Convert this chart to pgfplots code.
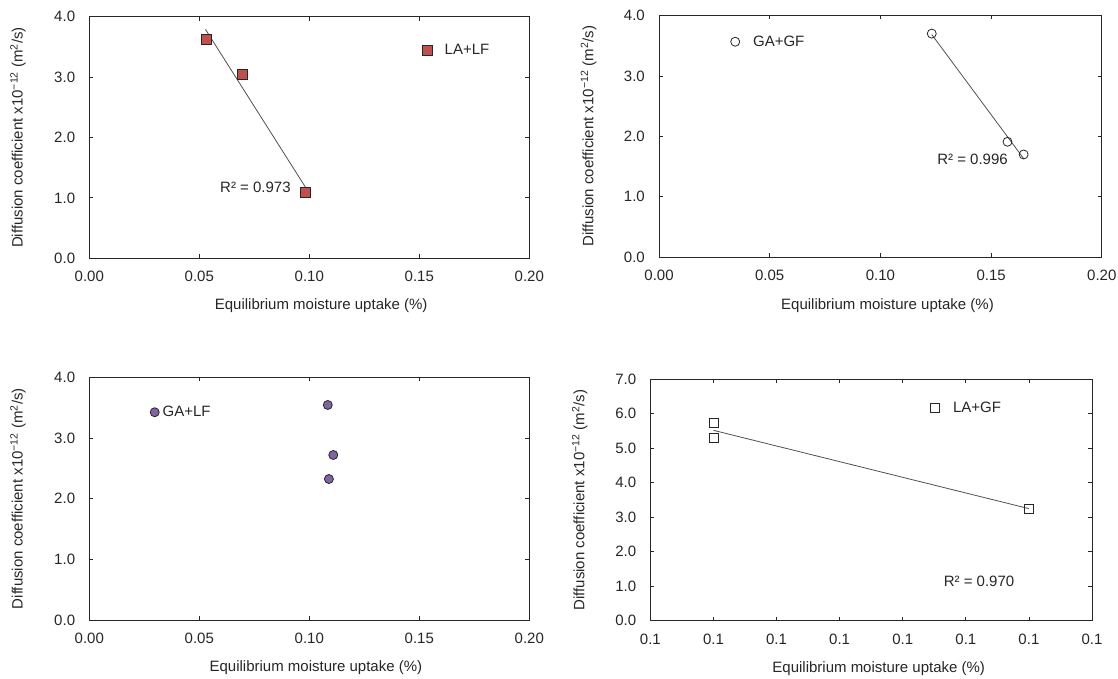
\documentclass[border=0pt]{standalone}
\usepackage{fontspec}
\setmainfont{Liberation Sans}
\usepackage{pgfplots}
\pgfplotsset{compat=1.18}
\definecolor{redfill}{HTML}{C0504D}
\definecolor{purplefill}{HTML}{8064A2}
\definecolor{axgray}{HTML}{262626}
\definecolor{trendgray}{HTML}{505050}

\pgfplotsset{
  panel/.style={
    scale only axis,
    anchor=south west,
    axis line style={axgray, line width=0.9pt},
    tick align=inside,
    major tick length=4pt,
    tick style={axgray, line width=0.8pt},
    font=\fontsize{15}{17}\selectfont,
    /pgf/number format/assume math mode=true,
    xticklabel style={inner sep=0pt, anchor=north, text=axgray},
    yticklabel style={inner sep=0pt, anchor=east, text=axgray},
    xticklabel shift=13pt,
    yticklabel shift=14pt,
    ymin=0, ymax=4, ytick={0,1,2,3,4},
    yticklabels={0.0,1.0,2.0,3.0,4.0},
    xmin=0, xmax=0.2, xtick={0,0.05,0.1,0.15,0.2},
    xticklabels={0.00,0.05,0.10,0.15,0.20},
    xlabel={Equilibrium moisture uptake (\%)},
    ylabel={Diffusion coefficient x10\textsuperscript{−12} (m\textsuperscript{2}/s)},
    label style={text=axgray},
    ylabel style={anchor=center},
    xlabel style={anchor=center},
    clip=false,
    legend style={draw=none, fill=none, inner sep=0pt, nodes={inner sep=0pt, text=axgray},
      font=\fontsize{15}{17}\selectfont, anchor=west},
    legend image code/.code={\draw[mark repeat=2,mark phase=2] plot coordinates {(0pt,0pt)(0pt,0pt)(0pt,0pt)};},
  },
  trend/.style={trendgray, line width=0.8pt, no marks},
}

\begin{document}
\begin{tikzpicture}
\useasboundingbox (0,0) rectangle (1118pt,678pt);

% Panel 1: LA+LF
\begin{axis}[panel, at={(89.3pt,419.7pt)}, width=440pt, height=241.6pt,
  ylabel style={at={(axis description cs:-0.162,0.5)}},
  xlabel style={at={(axis description cs:0.527,-0.197)}},
  legend style={at={(axis description cs:0.7555,0.862)}}]
\addplot[trend, forget plot] coordinates {(0.0528,3.79) (0.0982,1.18)};
\addplot[only marks, mark=square*, mark size=5pt, mark options={fill=redfill, draw=axgray, line width=0.8pt}]
  coordinates {(0.0531,3.62) (0.0698,3.05) (0.0982,1.09)};
\addlegendentry{\hspace{12.8pt}LA+LF}
\node[text=axgray, font=\fontsize{15}{17}\selectfont] at (axis cs:0.0755,1.17) {R² = 0.973};
\end{axis}

% Panel 2: GA+GF
\begin{axis}[panel, at={(659pt,420.8pt)}, width=442.8pt, height=241.7pt,
  ylabel style={at={(axis description cs:-0.159,0.5)}},
  xlabel style={at={(axis description cs:0.516,-0.201)}},
  legend style={at={(axis description cs:0.1615,0.8915)}}]
\addplot[trend, forget plot] coordinates {(0.1232,3.685) (0.1647,1.632)};
\addplot[only marks, mark=o, mark size=4.5pt, mark options={fill=white, draw=axgray, line width=0.8pt}]
  coordinates {(0.1232,3.70) (0.1574,1.91) (0.1647,1.70)};
\addlegendentry{\hspace{13.4pt}GA+GF}
\node[text=axgray, font=\fontsize{15}{17}\selectfont] at (axis cs:0.1416,1.614) {R² = 0.996};
\end{axis}

% Panel 3: GA+LF
\begin{axis}[panel, at={(89.3pt,58pt)}, width=440pt, height=242.7pt,
  ylabel style={at={(axis description cs:-0.162,0.5)}},
  xlabel style={at={(axis description cs:0.515,-0.195)}},
  legend style={at={(axis description cs:0.138,0.856)}}]
\addplot[only marks, mark=*, mark size=4.5pt, mark options={fill=purplefill, draw=axgray, line width=0.8pt}]
  coordinates {(0.1084,3.544) (0.1109,2.72) (0.1089,2.324)};
\addlegendentry{\hspace{3.4pt}GA+LF}
\end{axis}

% Panel 4: LA+GF
\begin{axis}[panel, at={(650.4pt,57.3pt)}, width=441.6pt, height=241.4pt,
  xmin=0, xmax=7, xtick={0,1,2,3,4,5,6,7},
  xticklabels={0.1,0.1,0.1,0.1,0.1,0.1,0.1,0.1},
  ymin=0, ymax=7, ytick={0,1,2,3,4,5,6,7},
  yticklabels={0.0,1.0,2.0,3.0,4.0,5.0,6.0,7.0},
  ylabel style={at={(axis description cs:-0.160,0.5)}},
  xlabel style={at={(axis description cs:0.517,-0.198)}},
  legend style={at={(axis description cs:0.6327,0.8824)}}]
\addplot[trend, forget plot] coordinates {(1,5.52) (6,3.25)};
\addplot[only marks, mark=square, mark size=4.5pt, mark options={fill=white, draw=axgray, line width=0.8pt}]
  coordinates {(1,5.745) (1,5.29) (6,3.25)};
\addlegendentry{\hspace{14.1pt}LA+GF}
\node[text=axgray, font=\fontsize{15}{17}\selectfont] at (axis cs:5.209,1.151) {R² = 0.970};
\end{axis}
\end{tikzpicture}
\end{document}
